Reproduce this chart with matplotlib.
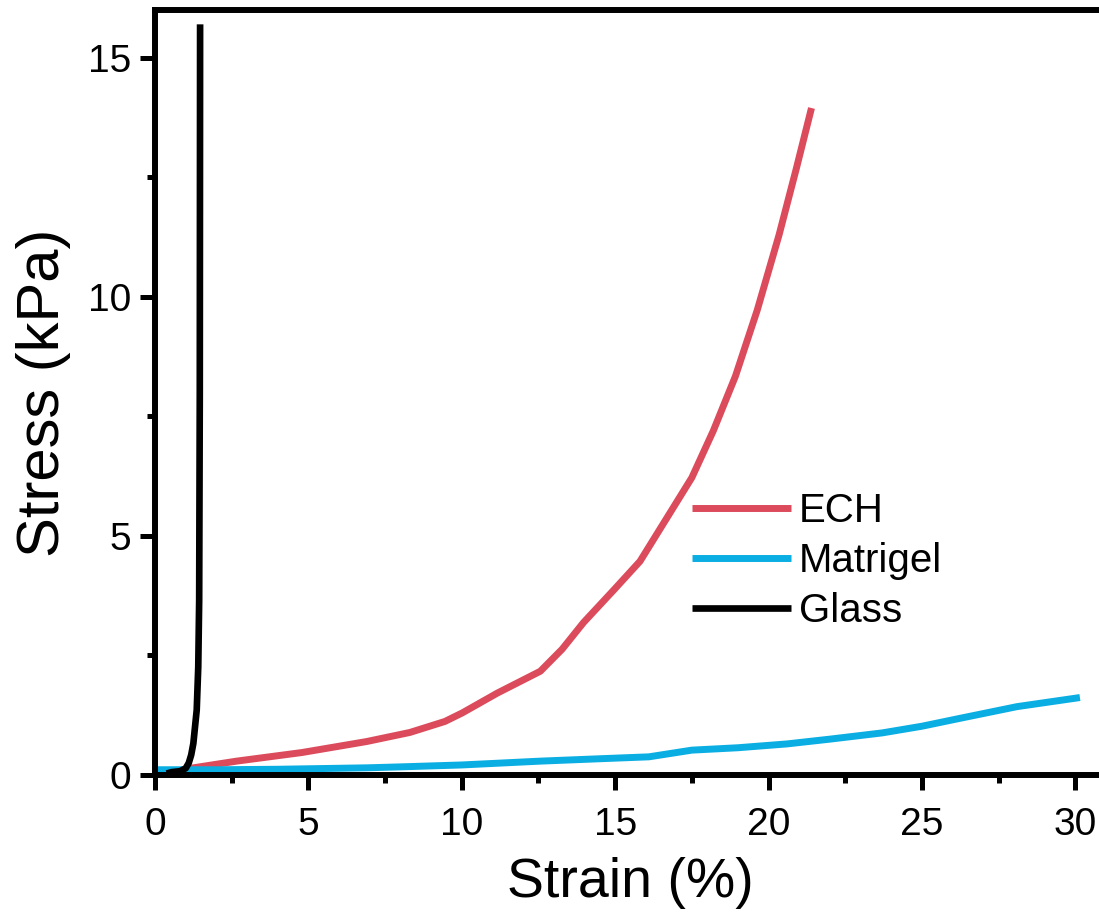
import numpy as np
import matplotlib
matplotlib.use("Agg")
import matplotlib.pyplot as plt
from matplotlib.ticker import MultipleLocator

plt.rcParams['font.family'] = ['Liberation Sans', 'DejaVu Sans']

# stress-strain curves
ech_strain = [0, 0.4, 1.25, 2.66, 4.79, 6.9, 8.31, 9.45, 10.02, 11.15, 12.56,
              13.27, 13.97, 14.97, 15.81, 16.66, 17.5, 18.2, 18.92, 19.63,
              20.34, 20.9, 21.4]
ech_stress = [0, 0.02, 0.15, 0.29, 0.47, 0.70, 0.89, 1.12, 1.30, 1.71, 2.17,
              2.63, 3.19, 3.88, 4.47, 5.35, 6.22, 7.2, 8.34, 9.72,
              11.29, 12.67, 13.95]

matrigel_strain = [0, 2, 4, 6.9, 8, 10, 12.56, 14.5, 16.1, 17.5, 19, 20.6,
                   22, 23.7, 25, 26.2, 28.1, 30.15]
matrigel_stress = [0.11, 0.11, 0.12, 0.15, 0.17, 0.21, 0.29, 0.34, 0.38, 0.52,
                   0.57, 0.65, 0.75, 0.88, 1.02, 1.18, 1.43, 1.62]

glass_strain = [0.38, 0.54, 0.82, 1.0, 1.1, 1.18, 1.25, 1.36, 1.41, 1.44,
                1.46, 1.47]
glass_stress = [0.03, 0.06, 0.08, 0.14, 0.25, 0.42, 0.66, 1.36, 2.26, 3.66,
                8.0, 15.7]

fig = plt.figure(figsize=(10.99, 9.14), dpi=100)
ax = fig.add_axes([155 / 1099, 139 / 914, 951 / 1099, 765 / 914])

ax.plot(ech_strain, ech_stress, color='#DB4B5C', lw=5, label='ECH',
        solid_capstyle='butt', solid_joinstyle='round')
ax.plot(matrigel_strain, matrigel_stress, color='#0AAEE2', lw=5,
        label='Matrigel', solid_capstyle='butt', solid_joinstyle='round')
ax.plot(glass_strain, glass_stress, color='black', lw=4.8, label='Glass',
        solid_capstyle='butt', solid_joinstyle='round')

ax.set_xlim(0, 31)
ax.set_ylim(0, 16)
ax.xaxis.set_major_locator(MultipleLocator(5))
ax.xaxis.set_minor_locator(MultipleLocator(2.5))
ax.yaxis.set_major_locator(MultipleLocator(5))
ax.yaxis.set_minor_locator(MultipleLocator(2.5))

for side in ['left', 'bottom', 'top']:
    ax.spines[side].set_linewidth(4.3)
ax.spines['right'].set_visible(False)

ax.tick_params(which='major', direction='out', length=11, width=3.6,
               labelsize=28, top=False, right=False)
ax.tick_params(which='minor', direction='out', length=6, width=3.6,
               top=False, right=False)
ax.tick_params(axis='x', which='major', pad=12)
ax.tick_params(axis='y', which='major', pad=6)

ax.set_xlabel('Strain (%)', fontsize=40, labelpad=10)
ax.set_ylabel('Stress (kPa)', fontsize=43, labelpad=12)

ax.legend(loc='upper left', bbox_to_anchor=(0.565, 0.37), frameon=False,
          fontsize=29, handlelength=2.45, handletextpad=0.2,
          labelspacing=0.3, borderpad=0, borderaxespad=0)

fig.savefig('out.png', dpi=100)
